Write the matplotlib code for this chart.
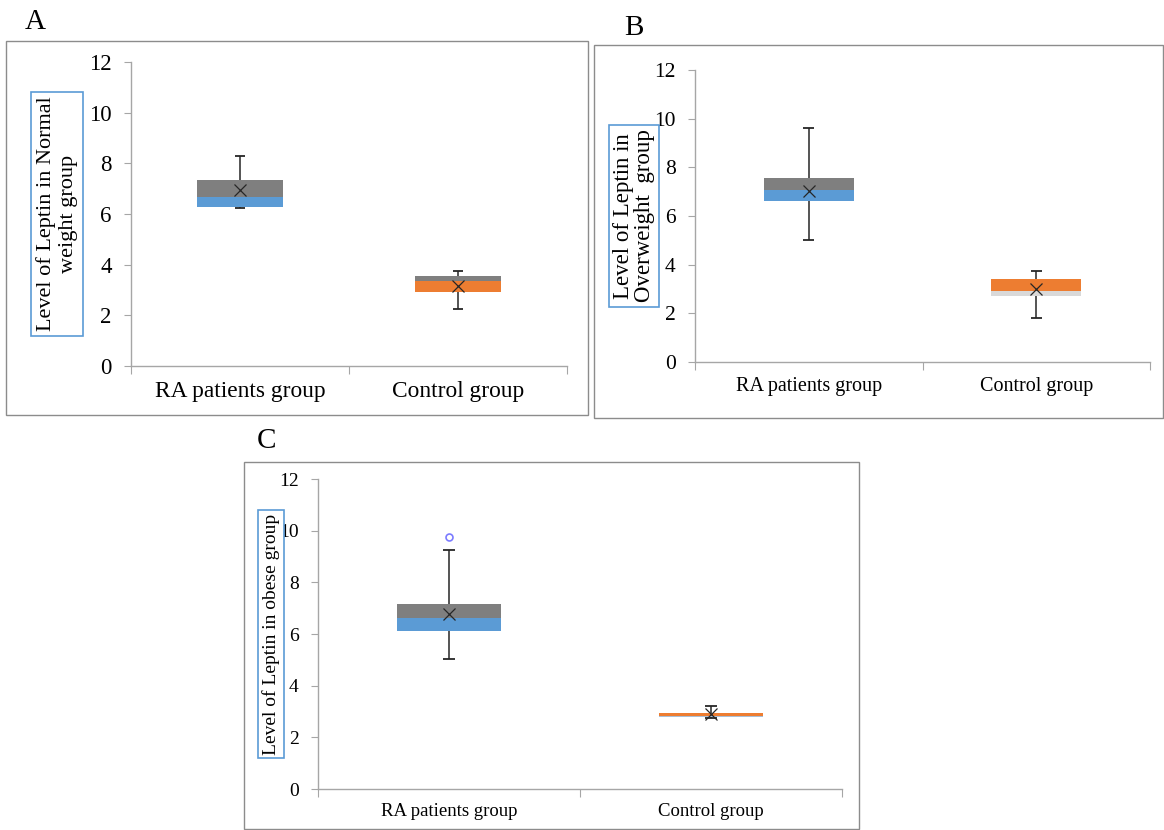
import matplotlib.pyplot as plt
import numpy as np
from matplotlib.patches import Rectangle

W, H = 1164, 830

groups = ["RA patients group", "Control group"]
yticks = [0, 2, 4, 6, 8, 10, 12]

# A: normal weight group
a_min = [6.24, 2.25]
a_q1 = [6.28, 2.92]
a_med = [6.67, 3.36]
a_q3 = [7.34, 3.55]
a_max = [8.29, 3.75]
a_mean = [6.95, 3.16]

# B: overweight group
b_min = [5.01, 1.81]
b_q1 = [6.62, 2.71]
b_med = [7.07, 2.92]
b_q3 = [7.56, 3.41]
b_max = [9.60, 3.74]
b_mean = [7.03, 3.00]

# C: obese group
c_min = [5.03, 2.75]
c_q1 = [6.12, 2.80]
c_med = [6.62, 2.84]
c_q3 = [7.16, 2.94]
c_max = [9.25, 3.21]
c_mean = [6.77, 2.90]
c_outliers = [9.76]  # RA patients group only

GRAY = "#7f7f7f"
BLUE = "#5b9bd5"
ORANGE = "#ed7d31"
LIGHT = "#d9d9d9"
AXIS = "#a6a6a6"
INK = "#262626"

plt.rcParams["font.family"] = ["Liberation Serif", "DejaVu Serif"]


def px_rect(left, top, right, bottom):
    return [left / W, 1 - bottom / H, (right - left) / W, (bottom - top) / H]


def fig_text(fig, x, y, s, **kw):
    return fig.text(x / W, 1 - y / H, s, **kw)


def draw_panel(ax, mins, q1, med, q3, maxs, means, lower, upper,
               fs_tick, fs_cat, cat_pad):
    x = np.arange(len(groups))
    ax.bar(x, np.subtract(med, q1), bottom=q1, width=0.395,
           color=lower, zorder=2)
    ax.bar(x, np.subtract(q3, med), bottom=med, width=0.395,
           color=upper, zorder=2)
    ax.vlines(x, q3, maxs, color=INK, lw=1.1, zorder=3)
    ax.vlines(x, mins, q1, color=INK, lw=1.1, zorder=3)
    ax.hlines(maxs, x - 0.024, x + 0.024, color=INK, lw=1.3, zorder=3)
    ax.hlines(mins, x - 0.024, x + 0.024, color=INK, lw=1.3, zorder=3)
    ax.plot(x, means, "x", color=INK, ms=9, mew=0.9, zorder=4)

    ax.set_xlim(-0.5, 1.5)
    ax.set_ylim(0, 12)
    for side in ("top", "right"):
        ax.spines[side].set_visible(False)
    for side in ("left", "bottom"):
        ax.spines[side].set_color(AXIS)
        ax.spines[side].set_linewidth(1.0)
    ax.set_yticks(yticks)
    ax.tick_params(axis="y", direction="out", length=5, color=AXIS,
                   labelsize=fs_tick, pad=9, labelcolor="black")
    ax.set_xticks([-0.5, 0.5, 1.5])
    ax.set_xticklabels(["", "", ""])
    ax.tick_params(axis="x", which="major", direction="out", length=5.5,
                   color=AXIS)
    ax.set_xticks([0, 1], minor=True)
    ax.set_xticklabels(groups, minor=True)
    ax.tick_params(axis="x", which="minor", length=0, labelsize=fs_cat,
                   pad=cat_pad, labelcolor="black")
    ax.set_facecolor("none")


fig = plt.figure(figsize=(W / 100, H / 100), dpi=100)

# panel frames
for (l, t, r, b) in [(6, 41, 588, 415), (594, 45, 1163, 418),
                     (244, 462, 859, 829)]:
    fig.patches.append(Rectangle((l / W, 1 - b / H), (r - l) / W, (b - t) / H,
                                 transform=fig.transFigure, fill=False,
                                 edgecolor="#8c8c8c", lw=1.0))

ax_a = fig.add_axes(px_rect(131, 62, 567, 366))
draw_panel(ax_a, a_min, a_q1, a_med, a_q3, a_max, a_mean,
           [BLUE, ORANGE], [GRAY, GRAY], 16.5, 16.8, 11)

ax_b = fig.add_axes(px_rect(695, 70, 1150, 362))
draw_panel(ax_b, b_min, b_q1, b_med, b_q3, b_max, b_mean,
           [BLUE, LIGHT], [GRAY, ORANGE], 15.5, 14.5, 11)

ax_c = fig.add_axes(px_rect(318, 479, 842, 789))
draw_panel(ax_c, c_min, c_q1, c_med, c_q3, c_max, c_mean,
           [BLUE, "#a9bfd6"], [GRAY, ORANGE], 14, 13.5, 10)
ax_c.plot([0] * len(c_outliers), c_outliers, "o", mfc="none",
          mec="#7b7bff", ms=5, mew=1.2, zorder=4)

# boxed y-axis titles
box = dict(boxstyle="square,pad=0.2", fc="white", ec=BLUE, lw=1.2)
fig_text(fig, 57, 214, "Level of Leptin in Normal\nweight group",
         rotation=90, ha="center", va="center", fontsize=16,
         multialignment="center", linespacing=1.25, bbox=box)
fig_text(fig, 634, 216, "Level of Leptin in\nOverweight  group",
         rotation=90, ha="center", va="center", fontsize=16.5,
         multialignment="center", linespacing=0.95, bbox=box)
fig_text(fig, 271, 634, "Level of Leptin in obese group",
         rotation=90, ha="center", va="center", fontsize=14, bbox=box)

# panel letters
fig_text(fig, 25, 29, "A", fontsize=21, ha="left", va="baseline")
fig_text(fig, 624, 35, "B", fontsize=21, ha="left", va="baseline")
fig_text(fig, 257, 448, "C", fontsize=21, ha="left", va="baseline")

fig.savefig("out.png", dpi=100)
